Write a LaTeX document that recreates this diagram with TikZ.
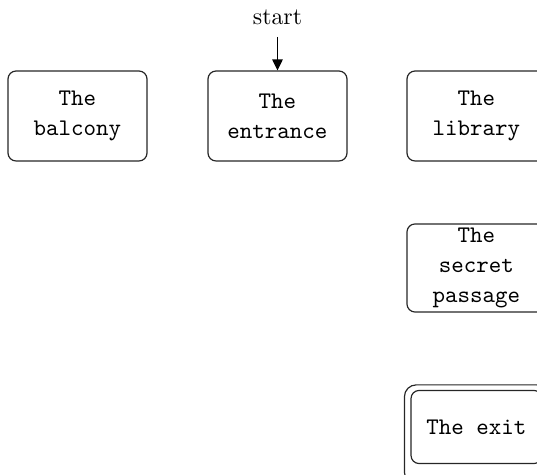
\documentclass[tikz,border=0pt]{standalone}
\usetikzlibrary{arrows.meta}
\begin{document}
\begin{tikzpicture}[x=0.42pt,y=-0.42pt,
  room/.style={draw=black!85, line width=0.5pt, rounded corners=3.4pt, align=center,
    font=\ttfamily\fontsize{10}{12.6}\selectfont, inner sep=0pt, minimum width=58.4pt, minimum height=37.8pt},
  arr/.style={-{Triangle[length=4.6pt,width=4.4pt]}, line width=0.5pt}]
\useasboundingbox (0,0) rectangle (537,475);
\node[room] (balcony) at (77.5,116) {The\\balcony};
\node[room] (entrance) at (277.5,116) {The\\entrance};
\node[room] (library) at (476.5,116) {The\\library};
\node[room, minimum height=37pt] (secret) at (476.5,268) {The\\secret\\passage};
\node[room, minimum height=30.7pt, minimum width=55pt] (exit) at (476.5,427) {The exit};
\draw[draw=black!85, line width=0.5pt, rounded corners=5pt]
  ([xshift=-6*0.42pt,yshift=5*0.42pt]exit.north west) rectangle ([xshift=6*0.42pt,yshift=-20*0.42pt]exit.south east);
\node (start) at (277.5,17) {start};
\coordinate (s0) at (277.5,37);
\draw[arr] (s0) -- (entrance.north);
\end{tikzpicture}
\end{document}
